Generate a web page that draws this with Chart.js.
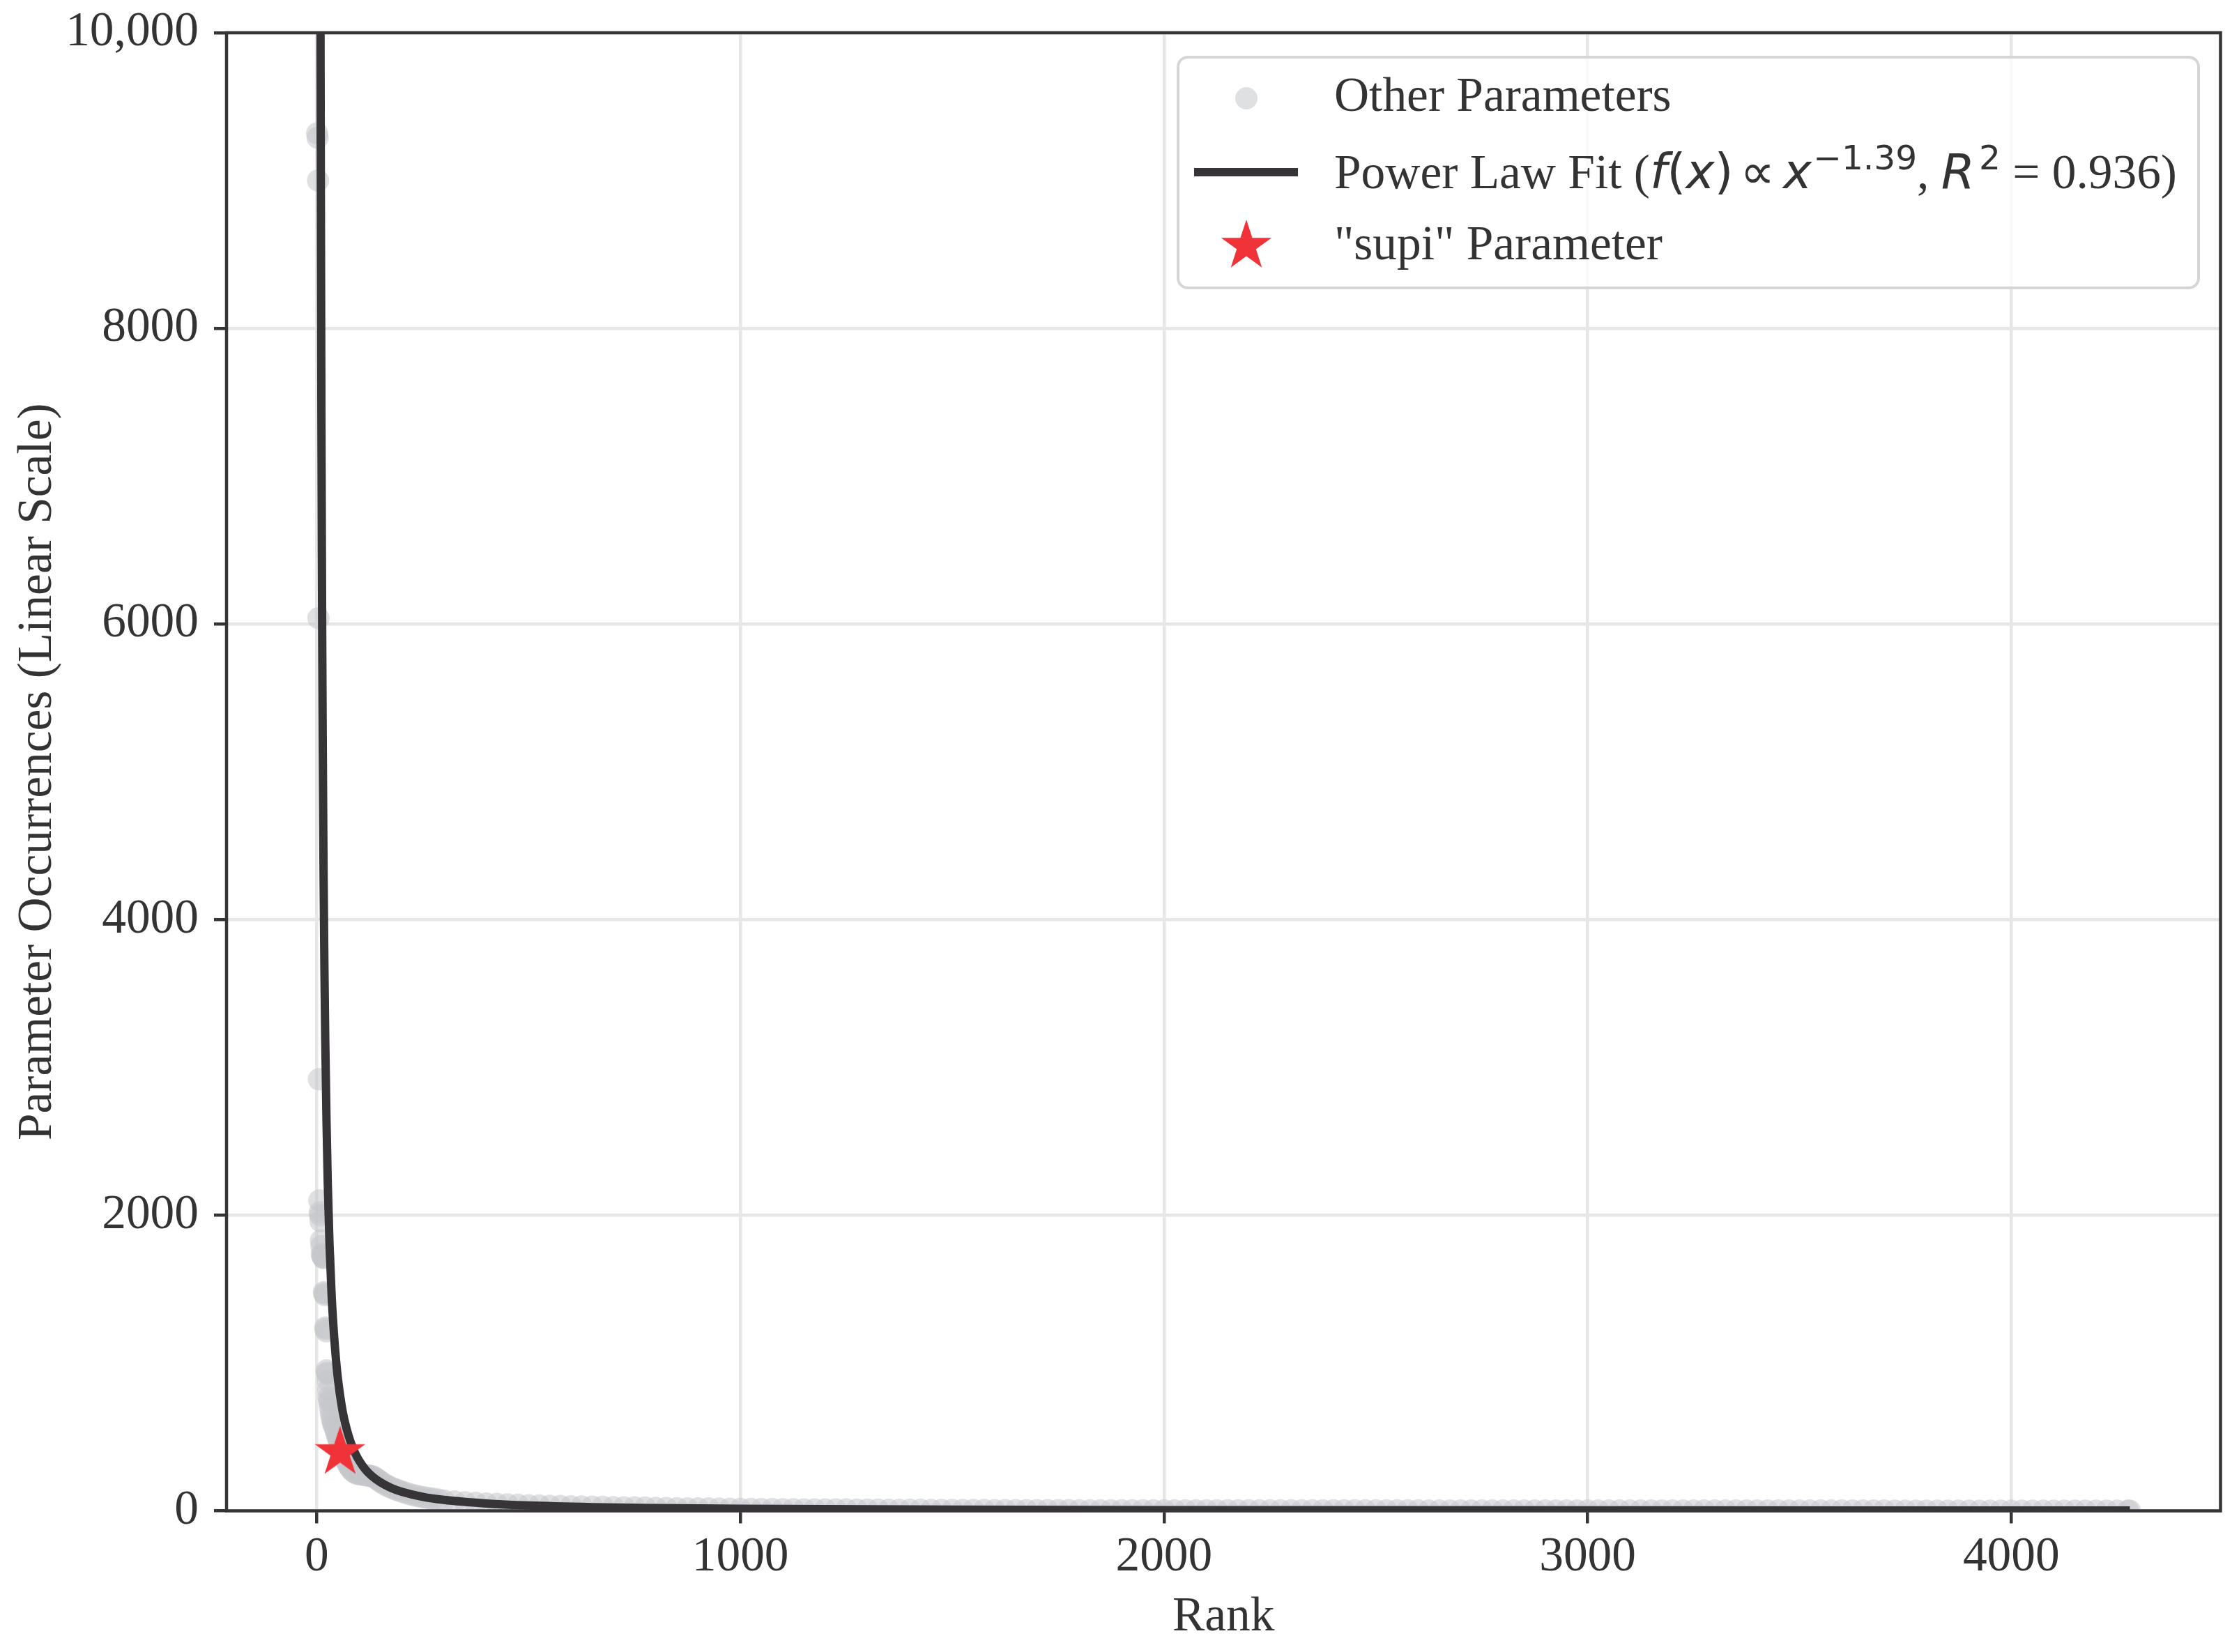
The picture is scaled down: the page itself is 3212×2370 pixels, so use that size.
<!DOCTYPE html>
<html>
<head>
<meta charset="utf-8">
<script src="https://cdn.jsdelivr.net/npm/chart.js@4.4.0/dist/chart.umd.min.js"></script>
<style>
html,body{margin:0;padding:0;background:#ffffff;}
canvas{display:block;}
</style>
</head>
<body>
<canvas id="chart" width="3212" height="2370" style="width:3212px;height:2370px"></canvas>
<script>
// ---------- DATA ----------
const headRanks  = [1,2,3,4,5,6,7,8,9,10,11,12,13,14,15,16,17,18,19,20,21,22,23,24,25,26,27,28,29,30];
const headCounts = [9320,9290,9000,6040,2920,2100,2020,2000,1960,1830,1790,1740,1730,1720,1715,1710,1480,1470,1460,1240,1230,1215,950,935,925,880,820,770,750,735];

const midRanks  = [31,33,35,37,39,41,43,45,47,49,51,53,56,59,62,65,68,71,74,77,80,84,88,92,97,102,107,112,117,122,127,132,137,142,147,152,158,165,172,180,188,196,205,215,225,235,245,255,265,275,287];
const midCounts = [700,665,635,610,590,575,560,540,520,500,485,470,450,425,400,375,350,330,312,298,285,272,262,255,250,247,245,243,241,239,236,232,226,215,205,195,183,172,162,152,143,135,126,117,109,102,96,91,86,82,77];

const tailRanks = [300,325,350,375,400,425,450,475,500,525,550,575,600,625,650,675,700,725,750,775,800,825,850,875,900,925,950,975,1000,
  1025,1050,1075,1100,1125,1150,1175,1200,
  1225,1250,1275,1300,1325,1350,1375,1400,1425,1450,1475,1500,
  1525,1550,1575,1600,1625,1650,1675,1700,1725,1750,1775,1800,1825,1850,1875,1900,1925,1950,1975,2000,
  2025,2050,2075,2100,2125,2150,2175,2200,2225,2250,2275,2300,2325,2350,2375,2400,2425,2450,2475,2500,
  2525,2550,2575,2600,2625,2650,2675,2700,2725,2750,2775,2800,2825,2850,2875,2900,2925,2950,2975,3000,
  3025,3050,3075,3100,3125,3150,3175,3200,3225,3250,3275,3300,3325,3350,3375,3400,3425,3450,3475,3500,
  3525,3550,3575,3600,3625,3650,3675,3700,3725,3750,3775,3800,3825,3850,3875,3900,3925,3950,3975,4000,
  4025,4050,4075,4100,4125,4150,4175,4200,4225,4250,4275,4280];
const tailCounts = [70,64,58,54,50,47,44,41,38,36,34,33,31,30,28,27,25,24,23,22,20,19,18,17,16,16,15,14,13,
  13,12,12,11,11,10,10,9,
  9,9,8,8,8,7,7,7,7,6,6,6,
  6,6,6,5,5,5,5,5,5,5,5,4,4,4,4,4,4,4,4,4,
  4,4,4,3,3,3,3,3,3,3,3,3,3,3,3,3,3,3,3,3,
  3,3,3,3,2,2,2,2,2,2,2,2,2,2,2,2,2,2,2,2,
  2,2,2,2,2,2,2,2,2,2,2,2,2,2,2,2,2,2,2,2,
  2,2,2,2,2,2,2,2,1,1,1,1,1,1,1,1,1,1,1,1,
  1,1,1,1,1,1,1,1,1,1,1,1];

const fitRanks  = [6,7,8,9,10,11,12,13,14,16,18,20,23,26,30,35,40,45,50,60,70,80,90,100,115,130,150,175,200,250,300,400,500,650,800,1000,1500,2000,3000,4280];
const fitValues = [17000,13700,11400,9700,8500,7350,6500,5800,5230,4320,3680,3190,2630,2210,1810,1460,1220,1035,890,690,560,465,394,340,279,236,194,156,130,95,74,50,36,25,19,14,8,5,3,2];

const supiRanks  = [55];
const supiCounts = [395];

const xTicks = [0,1000,2000,3000,4000];
const xTickLabels = ['0','1000','2000','3000','4000'];
const yTicks = [0,2000,4000,6000,8000,10000];
const yTickLabels = ['0','2000','4000','6000','8000','10,000'];

// ---------- STYLE ----------
const SERIF = "'Liberation Serif','Times New Roman',serif";
const FS = 69.4;
const TEXT = '#333333';
const DARK = '#363436';
const PT = 'rgba(196,198,202,0.55)';
const RED = '#ef3339';
const GRID = '#e6e6e6';
const FIT_W = 12;

function makeStar(R, color) {
  const c = document.createElement('canvas');
  const s = Math.ceil(2 * R + 4);
  c.width = s; c.height = s;
  const g = c.getContext('2d');
  g.fillStyle = color;
  g.beginPath();
  const cx = s / 2, cy = s / 2, r = R * 0.381966;
  for (let i = 0; i < 10; i++) {
    const a = -Math.PI / 2 + i * Math.PI / 5;
    const rad = (i % 2 === 0) ? R : r;
    const px = cx + rad * Math.cos(a), py = cy + rad * Math.sin(a);
    if (i === 0) g.moveTo(px, py); else g.lineTo(px, py);
  }
  g.closePath();
  g.fill();
  return c;
}
const starImg = makeStar(38, RED);

const pairs = (xs, ys) => xs.slice(0, Math.min(xs.length, ys.length)).map((x, i) => ({x: x, y: ys[i]}));
const otherPts = pairs(headRanks, headCounts).concat(pairs(midRanks, midCounts), pairs(tailRanks, tailCounts));

// ---------- PLUGINS ----------
const framePlugin = {
  id: 'frame',
  afterDatasetsDraw(chart) {
    const {ctx, chartArea: a} = chart;
    ctx.save();
    ctx.strokeStyle = DARK;
    ctx.lineWidth = 4.5;
    ctx.strokeRect(a.left, a.top, a.right - a.left, a.bottom - a.top);
    ctx.restore();
  }
};

function roundRectPath(ctx, x, y, w, h, r) {
  ctx.beginPath();
  ctx.moveTo(x + r, y);
  ctx.lineTo(x + w - r, y);
  ctx.arcTo(x + w, y, x + w, y + r, r);
  ctx.lineTo(x + w, y + h - r);
  ctx.arcTo(x + w, y + h, x + w - r, y + h, r);
  ctx.lineTo(x + r, y + h);
  ctx.arcTo(x, y + h, x, y + h - r, r);
  ctx.lineTo(x, y + r);
  ctx.arcTo(x, y, x + r, y, r);
  ctx.closePath();
}

const legendPlugin = {
  id: 'richLegend',
  afterDraw(chart) {
    const ctx = chart.ctx;
    ctx.save();
    roundRectPath(ctx, 1690, 82, 1464, 331, 14);
    ctx.fillStyle = 'rgba(255,255,255,0.8)';
    ctx.fill();
    ctx.strokeStyle = '#d6d6d6';
    ctx.lineWidth = 4;
    ctx.stroke();

    const mx = 1788, tx = 1914;
    ctx.fillStyle = PT;
    ctx.beginPath(); ctx.arc(mx, 141, 16, 0, Math.PI * 2); ctx.fill();
    ctx.strokeStyle = DARK; ctx.lineWidth = FIT_W; ctx.lineCap = 'butt';
    ctx.beginPath(); ctx.moveTo(1713, 247); ctx.lineTo(1862, 247); ctx.stroke();
    ctx.drawImage(starImg, mx - starImg.width / 2, 353 - starImg.height / 2);

    ctx.fillStyle = TEXT;
    ctx.textBaseline = 'alphabetic';
    ctx.textAlign = 'left';
    ctx.font = FS + 'px ' + SERIF;
    ctx.fillText('Other Parameters', tx, 159);
    ctx.fillText('"supi" Parameter', tx, 372);

    const rm = FS + 'px ' + SERIF;
    const mIt = 'italic ' + FS + "px 'DejaVu Sans'";
    const mRm = FS + "px 'DejaVu Sans'";
    const mSup = (FS * 0.7).toFixed(1) + "px 'DejaVu Sans'";
    const parts = [
      {t: 'Power Law Fit (', f: rm},
      {t: 'f', f: mIt}, {t: '(', f: mRm}, {t: 'x', f: mIt}, {t: ')', f: mRm},
      {gap: 10}, {t: '\u221D', f: mRm}, {gap: 12},
      {t: 'x', f: mIt}, {gap: 2}, {t: '\u22121.39', f: mSup, sup: true},
      {t: ', ', f: rm},
      {t: 'R', f: mIt}, {gap: 6}, {t: '2', f: mSup, sup: true},
      {t: ' = 0.936)', f: rm}
    ];
    let x = tx;
    const base = 270;
    for (const p of parts) {
      if (p.gap) { x += p.gap; continue; }
      ctx.font = p.f;
      ctx.fillText(p.t, x, p.sup ? base - 27 : base);
      x += ctx.measureText(p.t).width;
    }
    ctx.restore();
  }
};

// ---------- CHART ----------
const tickFont = {family: SERIF, size: FS};
new Chart(document.getElementById('chart'), {
  type: 'scatter',
  data: {
    datasets: [
      {
        label: '"supi" Parameter',
        type: 'scatter',
        data: pairs(supiRanks, supiCounts),
        pointStyle: starImg,
        pointRadius: 38,
        order: 0,
        clip: 0
      },
      {
        label: 'Power Law Fit',
        type: 'line',
        data: pairs(fitRanks, fitValues),
        borderColor: DARK,
        borderWidth: FIT_W,
        pointRadius: 0,
        fill: false,
        cubicInterpolationMode: 'monotone',
        order: 1,
        clip: 0
      },
      {
        label: 'Other Parameters',
        type: 'scatter',
        data: otherPts,
        backgroundColor: PT,
        pointBackgroundColor: PT,
        pointBorderWidth: 0,
        borderWidth: 0,
        pointRadius: 16,
        order: 2,
        clip: 0
      }
    ]
  },
  options: {
    responsive: false,
    animation: false,
    devicePixelRatio: 1,
    events: [],
    layout: {autoPadding: false, padding: {left: 0, right: 26.5, top: 47, bottom: 0}},
    plugins: {legend: {display: false}, tooltip: {enabled: false}},
    scales: {
      x: {
        type: 'linear',
        min: -213,
        max: 4494,
        afterBuildTicks: s => { s.ticks = xTicks.map(v => ({value: v})); },
        afterFit: s => { s.height = 202.5; s.paddingLeft = 0; s.paddingRight = 0; s.paddingTop = 0; s.paddingBottom = 0; },
        border: {display: false},
        grid: {color: GRID, lineWidth: 4.5, drawTicks: true, tickLength: 18, tickWidth: 4.5, tickColor: DARK},
        ticks: {
          font: tickFont, color: TEXT, padding: 8, maxRotation: 0, autoSkip: false,
          callback: v => { const i = xTicks.indexOf(v); return i >= 0 ? xTickLabels[i] : ''; }
        },
        title: {display: true, text: 'Rank', font: tickFont, color: TEXT, padding: {top: 0, bottom: 8}}
      },
      y: {
        type: 'linear',
        min: 0,
        max: 10000,
        afterBuildTicks: s => { s.ticks = yTicks.map(v => ({value: v})); },
        afterFit: s => { s.width = 325; s.paddingLeft = 0; s.paddingRight = 0; s.paddingTop = 0; s.paddingBottom = 0; },
        border: {display: false},
        grid: {color: GRID, lineWidth: 4.5, drawTicks: true, tickLength: 18, tickWidth: 4.5, tickColor: DARK},
        ticks: {
          font: tickFont, color: TEXT, padding: 22, autoSkip: false,
          callback: v => { const i = yTicks.indexOf(v); return i >= 0 ? yTickLabels[i] : ''; }
        },
        title: {display: true, text: 'Parameter Occurrences (Linear Scale)', font: tickFont, color: TEXT, padding: {top: 13, bottom: 0}}
      }
    }
  },
  plugins: [framePlugin, legendPlugin]
});
</script>
</body>
</html>
